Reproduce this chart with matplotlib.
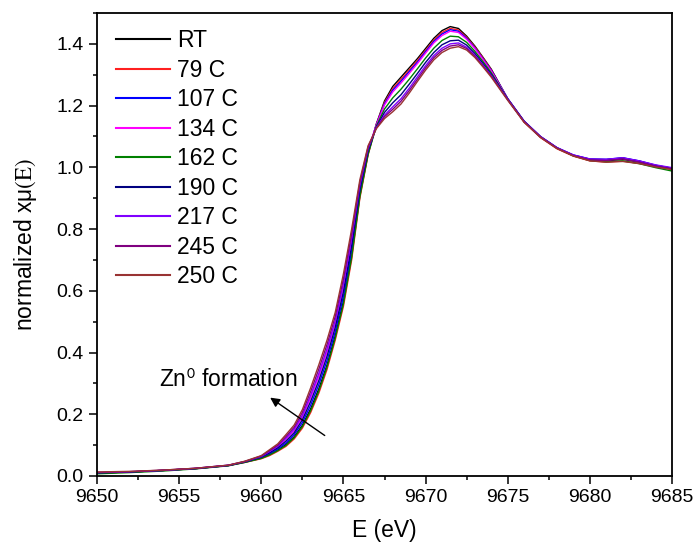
import matplotlib
matplotlib.use("Agg")
import matplotlib.pyplot as plt
from matplotlib.ticker import MultipleLocator, FormatStrFormatter

plt.rcParams['font.family'] = ['Liberation Sans', 'DejaVu Sans']
plt.rcParams['mathtext.fontset'] = 'stix'

energy = [9650, 9652, 9654, 9656, 9658, 9659, 9660, 9660.5, 9661, 9661.5,
          9662, 9662.5, 9663, 9663.5, 9664, 9664.5, 9665, 9665.5, 9666, 9666.5,
          9667, 9667.5, 9668, 9668.5, 9669, 9669.5, 9670, 9670.5, 9671, 9671.5,
          9672, 9672.5, 9673, 9673.5, 9674, 9675, 9676, 9677, 9678, 9679,
          9680, 9681, 9682, 9683, 9684, 9685]

labels = ["RT", "79 C", "107 C", "134 C", "162 C", "190 C", "217 C", "245 C", "250 C"]
colors = ["#000000", "#ff2020", "#0000ff", "#ff00ff", "#008000", "#000080",
          "#8000ff", "#800080", "#993333"]

mu_RT = [0.010, 0.013, 0.018, 0.024, 0.034,
         0.045, 0.058, 0.069, 0.084, 0.102, 0.127, 0.164, 0.217, 0.282, 0.359,
         0.454, 0.566, 0.715, 0.909, 1.045,
         1.140, 1.215, 1.262, 1.292, 1.322, 1.352, 1.385, 1.418, 1.443, 1.456,
         1.450, 1.425, 1.393, 1.356, 1.318,
         1.222, 1.148, 1.098, 1.062, 1.038, 1.024, 1.021, 1.026, 1.017, 1.005, 0.996]
mu_79 = [0.010, 0.013, 0.018, 0.024, 0.034,
         0.044, 0.056, 0.066, 0.080, 0.096, 0.120, 0.155, 0.205, 0.268, 0.345,
         0.440, 0.550, 0.700, 0.900, 1.040,
         1.139, 1.210, 1.255, 1.285, 1.315, 1.346, 1.379, 1.412, 1.437, 1.450,
         1.445, 1.421, 1.390, 1.354, 1.316,
         1.220, 1.146, 1.096, 1.060, 1.036, 1.021, 1.017, 1.020, 1.013, 1.002, 0.993]
mu_107 = [0.010, 0.013, 0.018, 0.024, 0.034,
          0.045, 0.059, 0.072, 0.087, 0.107, 0.134, 0.173, 0.229, 0.296, 0.374,
          0.467, 0.582, 0.730, 0.918, 1.049,
          1.138, 1.206, 1.250, 1.279, 1.310, 1.341, 1.375, 1.408, 1.432, 1.446,
          1.441, 1.418, 1.387, 1.351, 1.314,
          1.223, 1.150, 1.100, 1.064, 1.040, 1.027, 1.026, 1.031, 1.021, 1.007, 0.997]
mu_134 = [0.010, 0.013, 0.018, 0.024, 0.034,
          0.046, 0.062, 0.077, 0.094, 0.119, 0.147, 0.191, 0.253, 0.323, 0.402,
          0.494, 0.613, 0.760, 0.936, 1.058,
          1.137, 1.202, 1.244, 1.273, 1.304, 1.336, 1.370, 1.403, 1.427, 1.441,
          1.437, 1.415, 1.385, 1.349, 1.312,
          1.222, 1.149, 1.099, 1.063, 1.039, 1.025, 1.024, 1.029, 1.019, 1.006, 0.997]
mu_162 = [0.007, 0.011, 0.016, 0.023, 0.033,
          0.044, 0.057, 0.068, 0.082, 0.099, 0.124, 0.160, 0.211, 0.275, 0.353,
          0.447, 0.558, 0.708, 0.905, 1.042,
          1.133, 1.189, 1.225, 1.253, 1.285, 1.319, 1.354, 1.386, 1.411, 1.425,
          1.423, 1.405, 1.376, 1.342, 1.306,
          1.221, 1.148, 1.098, 1.062, 1.037, 1.022, 1.018, 1.021, 1.012, 0.999, 0.988]
mu_190 = [0.010, 0.013, 0.018, 0.024, 0.034,
          0.046, 0.061, 0.075, 0.091, 0.113, 0.140, 0.182, 0.241, 0.309, 0.388,
          0.481, 0.597, 0.745, 0.927, 1.054,
          1.130, 1.178, 1.209, 1.235, 1.269, 1.304, 1.340, 1.372, 1.397, 1.410,
          1.412, 1.396, 1.369, 1.336, 1.301,
          1.221, 1.149, 1.099, 1.063, 1.039, 1.026, 1.025, 1.030, 1.020, 1.006, 0.997]
mu_217 = [0.011, 0.014, 0.018, 0.025, 0.035,
          0.047, 0.063, 0.079, 0.097, 0.123, 0.152, 0.197, 0.261, 0.332, 0.412,
          0.503, 0.624, 0.770, 0.942, 1.061,
          1.128, 1.169, 1.196, 1.222, 1.256, 1.293, 1.329, 1.362, 1.386, 1.400,
          1.403, 1.389, 1.363, 1.331, 1.297,
          1.220, 1.148, 1.099, 1.063, 1.040, 1.027, 1.026, 1.031, 1.021, 1.008, 0.999]
mu_245 = [0.012, 0.014, 0.019, 0.025, 0.035,
          0.047, 0.065, 0.082, 0.100, 0.128, 0.158, 0.206, 0.273, 0.346, 0.426,
          0.517, 0.639, 0.785, 0.951, 1.066,
          1.127, 1.164, 1.188, 1.214, 1.248, 1.285, 1.322, 1.355, 1.379, 1.393,
          1.397, 1.385, 1.360, 1.328, 1.295,
          1.219, 1.147, 1.098, 1.062, 1.038, 1.024, 1.022, 1.027, 1.017, 1.004, 0.995]
mu_250 = [0.013, 0.015, 0.019, 0.025, 0.035,
          0.048, 0.066, 0.085, 0.104, 0.134, 0.165, 0.215, 0.285, 0.360, 0.440,
          0.530, 0.655, 0.800, 0.960, 1.070,
          1.125, 1.158, 1.180, 1.205, 1.240, 1.278, 1.315, 1.348, 1.372, 1.386,
          1.391, 1.380, 1.356, 1.325, 1.292,
          1.217, 1.146, 1.097, 1.061, 1.037, 1.021, 1.017, 1.019, 1.012, 1.001, 0.993]

series = [mu_RT, mu_79, mu_107, mu_134, mu_162, mu_190, mu_217, mu_245, mu_250]

fig = plt.figure(figsize=(6.95, 5.49), dpi=100)
ax = fig.add_axes([0.1396, 0.133, 0.8273, 0.8433])

for y, lab, c in zip(series, labels, colors):
    ax.plot(energy, y, color=c, lw=1.0, label=lab)

ax.set_xlim(9650, 9685)
ax.set_ylim(0, 1.5)
ax.xaxis.set_major_locator(MultipleLocator(5))
ax.xaxis.set_minor_locator(MultipleLocator(2.5))
ax.yaxis.set_major_locator(MultipleLocator(0.2))
ax.yaxis.set_minor_locator(MultipleLocator(0.1))
ax.yaxis.set_major_formatter(FormatStrFormatter('%.1f'))
ax.tick_params(which='both', direction='out', top=False, right=False, width=1.1)
ax.tick_params(which='major', length=6, labelsize=14)
ax.tick_params(which='minor', length=3.2)
for s in ax.spines.values():
    s.set_linewidth(1.3)

ax.set_xlabel("E (eV)", fontsize=16.5, labelpad=9.5)
ax.set_ylabel(r"normalized xμ$(\mathrm{E})$", fontsize=16.5, labelpad=13)

leg = ax.legend(loc='upper left', frameon=False, fontsize=16.5, handlelength=2.36,
                handletextpad=0.3, labelspacing=0.285, borderaxespad=0.3,
                bbox_to_anchor=(0.005, 1.0))
for h in leg.get_lines():
    h.set_linewidth(1.5)

ax.annotate("", xy=(9660.4, 0.259), xytext=(9664.0, 0.126),
            arrowprops=dict(arrowstyle='-|>', color='black', lw=1.0,
                            mutation_scale=14))
ax.text(9653.8, 0.31, r"Zn$^{\mathsf{0}}$ formation", fontsize=16.5, va='center', ha='left')

fig.savefig("out.png", dpi=100)
